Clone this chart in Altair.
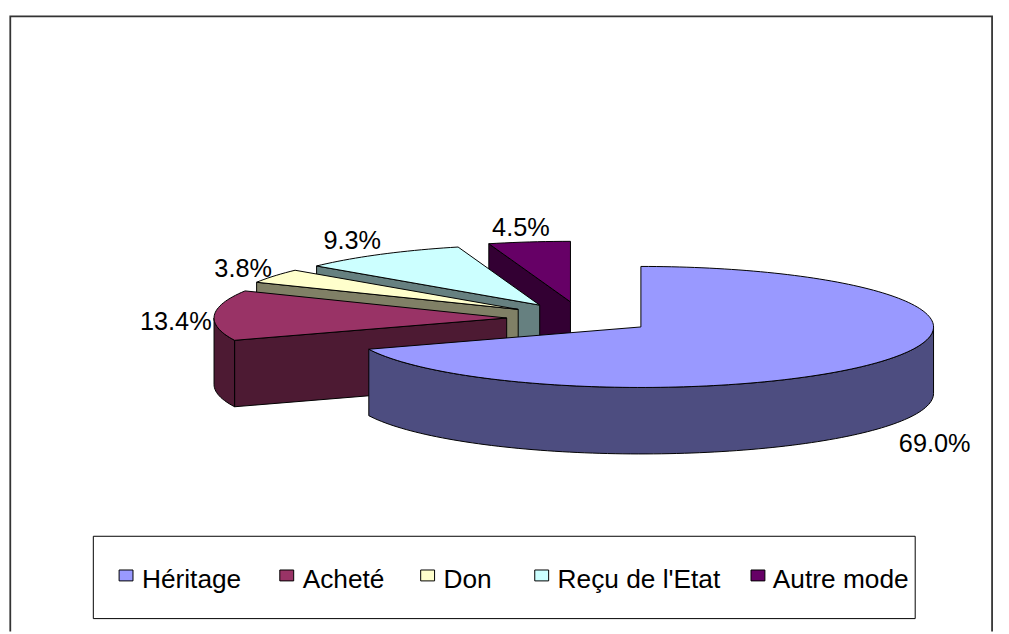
import math
import altair as alt

# ---- chart values -------------------------------------------------
categories = ["Héritage", "Acheté", "Don", "Reçu de l'Etat", "Autre mode"]
shares = [69.0, 13.4, 3.8, 9.3, 4.5]
labels = ["69.0%", "13.4%", "3.8%", "9.3%", "4.5%"]
top_colors = ["#9999ff", "#993366", "#ffffcc", "#ccffff", "#660066"]
side_colors = ["#4d4d80", "#4d1a33", "#808066", "#668080", "#330033"]

# ---- styling / layout of the tilted pie (page pixels) -------------
CX, CY, RX, RY, DEPTH = 646.0, 327.0, 295.0, 61.0, 67.0
explode_dx = [0, -135.3, -123.7, -102, -71]
explode_dy = [0, -9, -17.7, -22, -25.3]
label_x = [906, 141, 216, 326, 496]
label_y = [453, 330, 277, 248, 235]
legend_swatch_x = [120, 282, 424, 539, 757]
legend_text_x = [143, 305, 447, 562, 779]
LEGEND_BASE = 590


def pt(cx, cy, deg, dz=0.0):
    a = math.radians(deg)
    return [cx + RX * math.sin(a), cy - RY * math.cos(a) + dz]


def arc(cx, cy, a0, a1, dz=0.0):
    n = max(2, int(abs(a1 - a0) / 1.5))
    return [pt(cx, cy, a0 + (a1 - a0) * i / n, dz) for i in range(n + 1)]


def feature(ring, fill):
    ring = ring + [ring[0]]
    return {"type": "Feature", "properties": {"fill": fill},
            "geometry": {"type": "Polygon", "coordinates": [ring]}}


features = []
total = sum(shares)
spans, acc = [], 0.0
for s in shares:
    spans.append((acc, acc + s / total * 360))
    acc += s / total * 360

# painter's order: the back slices first, the main slice last
for i in [4, 3, 2, 1, 0]:
    a0, a1 = spans[i]
    cx, cy = CX + explode_dx[i], CY + explode_dy[i]
    if 180 < a0 < 360:
        p = pt(cx, cy, a0)
        features.append(feature([[cx, cy], p, [p[0], p[1] + DEPTH], [cx, cy + DEPTH]], side_colors[i]))
    lo, hi = max(a0, 90), min(a1, 270)
    if lo < hi:
        features.append(feature(arc(cx, cy, lo, hi) + arc(cx, cy, hi, lo, DEPTH), side_colors[i]))
    features.append(feature([[cx, cy]] + arc(cx, cy, a0, a1), top_colors[i]))

# legend swatches (box first)
legend_box = feature([[94, 538], [922.5, 538], [922.5, 621], [94, 621]], "#ffffff")
swatches = [feature([[x, 572], [x + 14, 572], [x + 14, 583], [x, 583]], c)
            for x, c in zip(legend_swatch_x, top_colors)]

features = [legend_box] + swatches + features

projection = alt.Projection(type="identity", scale=1, translate=[-8, -8])

shapes = alt.Chart(
    alt.InlineData(values={"type": "FeatureCollection", "features": features},
                   format=alt.DataFormat(type="json", property="features"))
).mark_geoshape(stroke="#000000", strokeWidth=1).encode(
    fill=alt.Fill("properties.fill:N", scale=None, legend=None)
).project(**projection.to_dict())

frame_feature = {"type": "Feature", "properties": {},
                 "geometry": {"type": "LineString",
                              "coordinates": [[10.3, 660], [10.3, 14], [1000, 14], [1000, 660]]}}
frame = alt.Chart(
    alt.InlineData(values={"type": "FeatureCollection", "features": [frame_feature]},
                   format=alt.DataFormat(type="json", property="features"))
).mark_geoshape(filled=False, stroke="#333333", strokeWidth=1.8).project(**projection.to_dict())

rows = [{"t": t, "x": x - 8, "y": y - 8} for t, x, y in zip(labels, label_x, label_y)]
pct_text = alt.Chart(alt.Data(values=rows)).mark_text(
    align="left", baseline="alphabetic", font="Liberation Sans", fontSize=25.5, color="#000000"
).encode(x=alt.X("x:Q", scale=None, axis=None), y=alt.Y("y:Q", scale=None, axis=None), text="t:N")

rows2 = [{"t": t, "x": x - 8, "y": LEGEND_BASE - 8} for t, x in zip(categories, legend_text_x)]
leg_text = alt.Chart(alt.Data(values=rows2)).mark_text(
    align="left", baseline="alphabetic", font="Liberation Sans", fontSize=26.5, color="#000000"
).encode(x=alt.X("x:Q", scale=None, axis=None), y=alt.Y("y:Q", scale=None, axis=None), text="t:N")

chart = alt.layer(frame, shapes, pct_text, leg_text).properties(
    width=1001, height=626, padding=0, background="#ffffff",
    view=alt.ViewConfig(stroke=None),
) if False else alt.layer(frame, shapes, pct_text, leg_text).properties(
    width=1001, height=626, padding=0, background="#ffffff"
).configure_view(stroke=None)

chart.save("out.html", embed_options={"renderer": "svg", "actions": False})
